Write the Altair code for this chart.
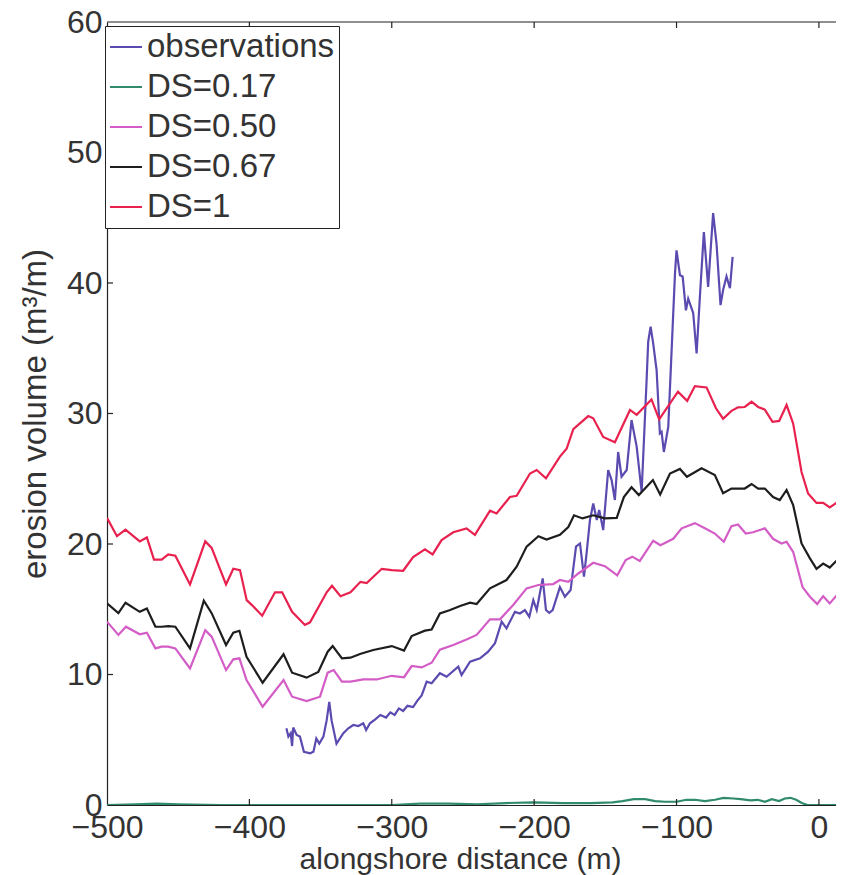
import altair as alt
import pandas as pd

# ---------------- data ----------------
series_names = ["observations", "DS=0.17", "DS=0.50", "DS=0.67", "DS=1"]
series_colors = ["#5b4bb0", "#2f8a6e", "#d35cc6", "#1e1e1e", "#e8214e"]

obs_x = [-374, -372.6, -371, -370, -369.2, -366.8, -364.5, -361.7, -357.4, -355, -353, -350.9, -348,
         -345.7, -343.9, -342.3, -338.8, -334, -330.5, -327, -323.5, -320, -318, -315.3, -311.8, -308,
         -304, -301, -298, -295, -292, -289, -285, -282, -279, -277, -275.5, -272, -266.2, -261.5,
         -253.3, -251, -245, -238, -232.3, -227.5, -222.8, -219.4, -213.5, -210, -206.5, -203.4, -200.6,
         -198.2, -194, -191.7, -189.4, -187, -181.9, -178.4, -174.4, -170.6, -167.8, -165, -163.2, -160.8,
         -158.5, -156, -154.3, -151.5, -148, -145.6, -143.3, -141, -138.6, -135, -131.6, -128, -124.5,
         -121, -119.9, -118.2, -116.4, -114, -111.7, -110.5, -108.9, -105.8, -101.1, -100, -97.6, -95.7,
         -93.4, -91.8, -88.3, -85.9, -83.6, -80.8, -77.8, -74.3, -71.9, -69.1, -67.3, -64.9, -62.5, -60.6]
obs_y = [5.88, 5.24, 5.5, 4.52, 5.94, 5.36, 5.24, 4.08, 3.96, 4.08, 5.1, 4.7, 5.24,
         6.5, 7.9, 6.5, 4.7, 5.5, 5.88, 6.13, 6.05, 6.26, 5.75, 6.26, 6.55, 6.9,
         6.7, 7.1, 6.9, 7.4, 7.2, 7.6, 7.5, 8.0, 8.4, 9.0, 9.45, 9.33, 10.1, 9.83,
         10.6, 9.96, 10.98, 11.24, 11.75, 12.4, 14.05, 13.54, 14.8, 14.68, 14.94, 14.43, 15.7,
         14.94, 17.36, 14.94, 14.73, 14.94, 16.7, 15.96, 16.47, 19.8, 20.04, 17.5, 19.27, 21.84,
         23.1, 21.84, 22.6, 21.07, 25.67, 24.9, 23.37, 27.05, 25.16, 25.67, 29.5, 27.46, 24.0,
         32.6, 35.5, 36.66, 35.37, 33.33, 28.48, 28.6, 27.05, 28.97, 40.7, 42.5, 40.6, 40.5,
         37.9, 38.8, 37.7, 34.6, 38.94, 43.9, 39.7, 45.35, 43.0, 38.3, 39.46, 40.5, 39.6, 42.0]

ds017_x = [-500, -480, -465, -450, -420, -300, -280, -260, -240, -220, -200, -180, -160, -145, -138,
           -130, -122, -115, -108, -100, -93, -87, -80, -73, -67, -60, -55, -48, -43, -38, -33, -28,
           -24, -20, -16, -12, -8, 0, 12]
ds017_y = [0.0, 0.05, 0.1, 0.05, 0.0, 0.0, 0.1, 0.1, 0.05, 0.15, 0.2, 0.15, 0.15, 0.2, 0.3,
           0.45, 0.45, 0.3, 0.25, 0.25, 0.4, 0.4, 0.3, 0.4, 0.55, 0.5, 0.45, 0.35, 0.4, 0.25, 0.45, 0.3,
           0.5, 0.55, 0.4, 0.15, 0.0, 0.0, 0.0]

ds050_x = [-500, -492, -486.7, -477, -472, -466, -461.6, -457, -452, -441.7, -431, -426.5, -416.4,
           -411.3, -407, -402, -390.7, -376, -370, -359.8, -350.4, -345, -340.8, -335, -329, -320,
           -310.6, -300, -291.4, -286, -279, -272, -266.2, -256.8, -247.5, -240.4, -231, -224, -214.7,
           -205.3, -197, -186.6, -181.9, -176, -169, -158.5, -150.3, -141.6, -135.7, -131.1, -125.8,
           -116.4, -111.3, -102.3, -96.4, -87.1, -80.1, -73.1, -66.8, -61.4, -56.8, -51.4, -46.3, -38,
           -32.2, -26.3, -22.7, -18.1, -11.5, -6.3, -1.2, 3, 7.6, 17.5]
ds050_y = [14.05, 13.03, 13.66, 13.08, 13.2, 12.0, 12.13, 12.13, 12.0, 10.46, 13.4, 12.9, 10.34,
           11.16, 11.24, 9.58, 7.53, 9.58, 8.3, 7.97, 8.3, 10.14, 10.34, 9.45, 9.45, 9.62,
           9.62, 9.9, 9.79, 10.65, 10.54, 10.9, 11.9, 12.26, 12.68, 13.03, 14.23, 14.23, 15.33,
           16.6, 16.86, 16.93, 17.24, 17.1, 17.74, 18.56, 18.3, 17.6, 18.77, 19.03, 18.7,
           20.25, 19.9, 20.4, 21.2, 21.6, 21.2, 20.8, 20.17, 21.37, 21.5, 20.8, 20.9, 21.2,
           20.4, 20.04, 20.17, 19.4, 16.7, 15.96, 15.4, 16.0, 15.45, 16.7]

ds067_x = [-500, -492, -487, -477, -472, -466, -461.6, -457, -452, -441.7, -432, -426.5, -416.4,
           -411.3, -407, -402, -390.7, -376, -370, -359.8, -351.6, -345, -341.5, -335, -329, -322.3,
           -313, -300, -291.4, -286, -276.7, -272, -266.2, -259, -252, -245, -240.4, -231, -219.4,
           -212.3, -205.3, -197, -191.3, -181.9, -176, -172, -166, -158.5, -150.3, -142, -137, -131.6,
           -126.5, -116.6, -111.5, -104.6, -97.6, -92.7, -82.4, -73.1, -67.3, -61.4, -52.1, -47.3,
           -42.7, -38, -32.2, -27.5, -22.7, -18.1, -12.2, -6.3, -1.7, 3, 7.6, 12.8, 17.5]
ds067_y = [15.45, 14.7, 15.5, 14.8, 15.06, 13.66, 13.66, 13.7, 13.66, 12.0, 15.66, 14.7, 12.26,
           13.2, 13.35, 11.36, 9.37, 11.55, 10.14, 9.76, 10.2, 11.75, 12.18, 11.24, 11.29, 11.57,
           11.88, 12.18, 11.83, 12.95, 13.36, 13.45, 14.68, 14.94, 15.25, 15.5, 15.4, 16.6, 17.24,
           18.26, 19.8, 20.6, 20.34, 20.7, 21.3, 22.2, 21.96, 22.2, 21.96, 22.0, 23.6, 24.35,
           23.75, 24.9, 23.8, 25.4, 25.75, 25.15, 25.8, 25.29, 23.9, 24.25, 24.25, 24.6,
           24.25, 24.25, 23.6, 23.37, 24.14, 22.99, 20.04, 18.9, 18.1, 18.5, 18.2, 18.77, 19.4]

ds1_x = [-500, -493, -487, -477, -472, -467, -461.6, -457, -452, -441.7, -431, -426.5, -416.4,
         -411.3, -406.6, -401.9, -398, -391, -382, -377, -370, -361, -357.4, -345.7, -342, -336, -329,
         -322, -317.6, -307, -300, -292, -285, -276.7, -271.3, -265, -256.8, -247.5, -241.6, -231,
         -226.4, -217, -212.3, -202.9, -198.2, -191.7, -181.9, -177.2, -172.5, -162, -158.5, -151.5,
         -143.3, -132.7, -128, -117.6, -112.2, -99, -92.5, -87.1, -78.9, -72.3, -67.3, -61.4, -56.8,
         -52.1, -47.3, -42.7, -38, -32.6, -27.9, -22.7, -18.1, -12.2, -7.6, -1.7, 3, 7.6, 12.3, 17.5]
ds1_y = [22.0, 20.6, 21.1, 20.2, 20.5, 18.8, 18.8, 19.2, 19.1, 16.9, 20.2, 19.7, 16.9,
         18.1, 18.0, 15.7, 15.3, 14.5, 16.3, 16.3, 14.8, 13.8, 14.0, 16.3, 16.8, 16.0, 16.3,
         17.1, 17.0, 18.1, 18.0, 17.95, 19.0, 19.6, 19.2, 20.3, 20.9, 21.2, 20.7, 22.55,
         22.34, 23.6, 23.7, 25.4, 25.67, 25.03, 26.7, 27.3, 28.8, 29.8, 29.63, 28.2,
         27.8, 30.27, 29.9, 31.08, 29.55, 31.67, 30.97, 32.1, 32.0, 30.4, 29.6, 30.2, 30.47,
         30.5, 30.9, 30.5, 30.3, 29.36, 29.43, 30.65, 29.24, 25.52, 23.87, 23.15, 23.15, 22.8, 23.15, 24.1]

x_ticks = [-500, -400, -300, -200, -100, 0]
y_ticks = [0, 10, 20, 30, 40, 50, 60]
x_domain = [-500, 12]
y_domain = [0, 60]

# ---------------- build tables ----------------
frames = []
for name, xs_, ys_ in [("observations", obs_x, obs_y), ("DS=0.17", ds017_x, ds017_y),
                       ("DS=0.50", ds050_x, ds050_y), ("DS=0.67", ds067_x, ds067_y),
                       ("DS=1", ds1_x, ds1_y)]:
    frames.append(pd.DataFrame({"x": xs_, "y": ys_, "series": name, "idx": range(len(xs_))}))
df = pd.concat(frames, ignore_index=True)

FONT = "Liberation Sans"
TXT = "#333333"
AX = "#222222"
W, H = 729, 783
TICK_PX = 6
tick_dy = TICK_PX * (y_domain[1] - y_domain[0]) / H
tick_dx = TICK_PX * (x_domain[1] - x_domain[0]) / W

xs = alt.Scale(domain=x_domain, nice=False, zero=False)
ys = alt.Scale(domain=y_domain, nice=False, zero=False)

# negative labels get a trailing figure space so the digits sit centred on the tick
x_label_expr = "datum.value < 0 ? datum.label + '\u2007' : datum.label"

x_axis = alt.Axis(
    values=x_ticks, ticks=False, grid=False, labelFlush=False, labelOverlap=False,
    labelFontSize=32, labelPadding=7, labelColor=TXT, labelFont=FONT,
    labelExpr=x_label_expr,
    domainColor=AX, domainWidth=1.2,
    title="alongshore distance (m)", titleFontSize=30, titleFont=FONT,
    titleFontWeight="normal", titleColor=TXT, titleX=353, titleY=54,
    titleBaseline="middle")
y_axis = alt.Axis(
    values=y_ticks, ticks=False, grid=False, labelFlush=False, labelOverlap=False,
    labelFontSize=32, labelPadding=5, labelColor=TXT, labelFont=FONT,
    domainColor=AX, domainWidth=1.2,
    title="erosion volume (m³/m)", titleFontSize=33, titleFont=FONT,
    titleFontWeight="normal", titleColor=TXT, titleX=-72, titleY=H / 2,
    titleBaseline="middle")

lines = alt.Chart(df).mark_line(strokeWidth=2.2, clip=True).encode(
    x=alt.X("x:Q", scale=xs, axis=x_axis),
    y=alt.Y("y:Q", scale=ys, axis=y_axis),
    color=alt.Color("series:N", scale=alt.Scale(domain=series_names, range=series_colors),
                    sort=series_names,
                    legend=alt.Legend(
                        title=None, orient="none", legendX=-2, legendY=4,
                        symbolType="stroke", symbolSize=1024, symbolStrokeWidth=2,
                        labelFontSize=33, labelFont=FONT, labelColor=TXT, labelOffset=4,
                        rowPadding=6, padding=4, fillColor="white",
                        strokeColor=AX, labelLimit=400)),
    order="idx:Q",
)

xt_df = pd.DataFrame({"x": x_ticks[1:]})
yt_df = pd.DataFrame({"y": y_ticks[1:-1]})

bottom_ticks = alt.Chart(xt_df).mark_rule(color=AX, strokeWidth=1.2).encode(
    x=alt.X("x:Q", scale=xs, axis=x_axis),
    y=alt.datum(y_domain[0]), y2=alt.datum(y_domain[0] + tick_dy))
top_ticks = alt.Chart(xt_df).mark_rule(color=AX, strokeWidth=1.2).encode(
    x=alt.X("x:Q", scale=xs, axis=x_axis),
    y=alt.datum(y_domain[1]), y2=alt.datum(y_domain[1] - tick_dy))
left_ticks = alt.Chart(yt_df).mark_rule(color=AX, strokeWidth=1.2).encode(
    y=alt.Y("y:Q", scale=ys, axis=y_axis),
    x=alt.datum(x_domain[0]), x2=alt.datum(x_domain[0] + tick_dx))
top_border = alt.Chart(pd.DataFrame({"y": [y_domain[1]]})).mark_rule(
    color=AX, strokeWidth=1.2).encode(
    y=alt.Y("y:Q", scale=ys, axis=y_axis),
    x=alt.datum(x_domain[0]), x2=alt.datum(x_domain[1]))

chart = alt.layer(lines, bottom_ticks, top_ticks, left_ticks, top_border).properties(
    width=W, height=H,
    padding={"left": 99, "top": 14, "right": 0, "bottom": 70},
    autosize=alt.AutoSizeParams(type="none"),
    background="white",
).configure_view(strokeOpacity=0)

chart.save("out.html", embed_options={"renderer": "svg", "actions": False})
